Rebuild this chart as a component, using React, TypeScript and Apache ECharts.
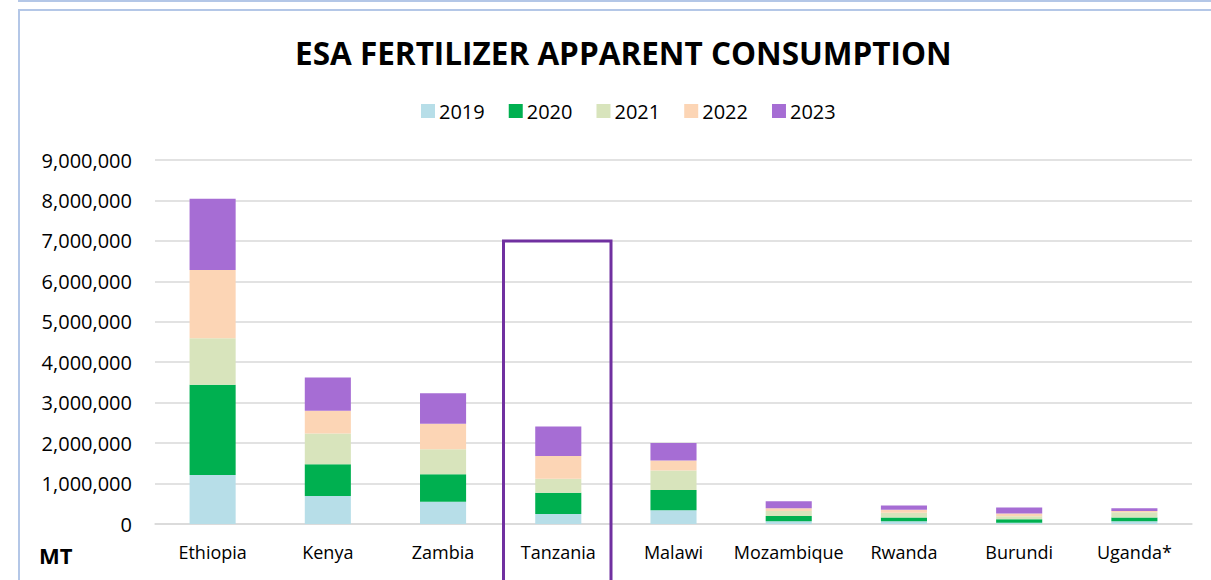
import React, { useEffect, useRef } from "react";
import * as echarts from "echarts";

const categories = ["Ethiopia", "Kenya", "Zambia", "Tanzania", "Malawi", "Mozambique", "Rwanda", "Burundi", "Uganda*"];
const years = ["2019", "2020", "2021", "2022", "2023"];
const colors = ["#B7DEE8", "#00B050", "#D8E4BC", "#FCD5B5", "#A66DD4"];
const v2019 = [1210000, 690000, 550000, 250000, 340000, 70000, 70000, 30000, 70000];
const v2020 = [2230000, 790000, 680000, 520000, 500000, 130000, 90000, 90000, 90000];
const v2021 = [1150000, 760000, 620000, 350000, 480000, 120000, 120000, 70000, 130000];
const v2022 = [1690000, 560000, 630000, 560000, 250000, 70000, 70000, 70000, 30000];
const v2023 = [1760000, 820000, 750000, 730000, 430000, 170000, 110000, 150000, 70000];
const seriesValues = [v2019, v2020, v2021, v2022, v2023];

const FONT = "'Open Sans', sans-serif";

export default function App() {
  const ref = useRef<HTMLDivElement>(null);
  useEffect(() => {
    if (!ref.current) return;
    const chart = echarts.init(ref.current, null, { renderer: "svg" });
    chart.setOption({
      animation: false,
      backgroundColor: "#fff",
      textStyle: { fontFamily: FONT },
      title: {
        text: "ESA FERTILIZER APPARENT CONSUMPTION",
        left: 290,
        top: 31,
        textStyle: { fontFamily: FONT, fontSize: 31.5, fontWeight: "bold", color: "#000" },
      },
      legend: {
        top: 96,
        left: 416,
        itemWidth: 14,
        itemHeight: 14,
        itemGap: 24,
        icon: "rect",
        textStyle: { fontFamily: FONT, fontSize: 20, color: "#000", padding: [0, 0, 0, -1] },
        data: years,
      },
      grid: { left: 155, right: 19, top: 160, bottom: 56, containLabel: false },
      xAxis: {
        type: "category",
        data: categories,
        axisTick: { show: false },
        axisLine: { lineStyle: { color: "#D9D9D9", width: 1.5 } },
        axisLabel: { fontFamily: FONT, fontSize: 18, color: "#000", margin: 19, interval: 0 },
      },
      yAxis: {
        type: "value",
        min: 0,
        max: 9000000,
        interval: 1000000,
        axisLine: { show: false },
        axisTick: { show: false },
        splitLine: { lineStyle: { color: "#D9D9D9", width: 1.5 } },
        axisLabel: {
          fontFamily: FONT,
          fontSize: 20,
          color: "#000",
          margin: 23,
          formatter: (v: number) => v.toLocaleString("en-US"),
        },
      },
      series: years.map((y, i) => ({
        name: y,
        type: "bar",
        stack: "total",
        barWidth: "40%",
        data: seriesValues[i],
        itemStyle: { color: colors[i] },
      })),
      graphic: [
        {
          type: "line",
          shape: { x1: 18, y1: 1, x2: 1211, y2: 1 },
          style: { stroke: "#B4C7E7", lineWidth: 2 },
        },
        {
          type: "rect",
          shape: { x: 19, y: 10, width: 1300, height: 700 },
          style: { fill: "none", stroke: "#B4C7E7", lineWidth: 2 },
        },
        {
          type: "rect",
          shape: { x: 503.5, y: 241, width: 107.5, height: 400 },
          style: { fill: "none", stroke: "#7030A0", lineWidth: 3 },
          z: 10,
        },
        {
          type: "text",
          x: 39,
          y: 544,
          style: { text: "MT", fontFamily: FONT, fontSize: 22, fontWeight: "bold", fill: "#000" },
        },
      ],
    });
    return () => chart.dispose();
  }, []);
  return <div ref={ref} style={{ position: "fixed", left: 0, top: 0, width: 1211, height: 580 }} />;
}
